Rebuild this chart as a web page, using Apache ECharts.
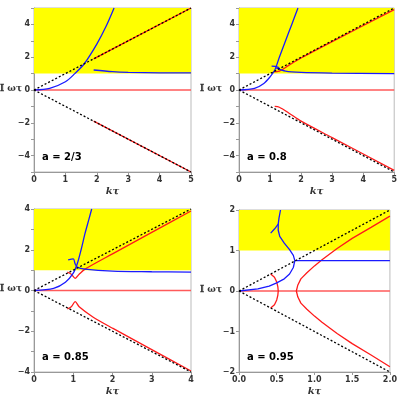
<!DOCTYPE html>
<html><head><meta charset="utf-8">
<script src="https://cdn.jsdelivr.net/npm/echarts@6/dist/echarts.min.js"></script>
<style>html,body{margin:0;padding:0;background:#fff}#c{width:400px;height:400px}</style>
</head><body><div id="c"></div>
<script>
// panel meta
const labels = ["a = 2/3", "a = 0.8", "a = 0.85", "a = 0.95"];
const xMax = [5, 5, 4, 2];
const yMax = [5, 5, 4, 2];
// panel 1 (a = 2/3)
const p1Blue = [[[0,0],[0.5,0.1],[1,0.5],[1.3,1.0],[1.6,1.6],[2,2.8],[2.3,3.9],[2.55,5]],
  [[1.9,1.22],[2.5,1.12],[3,1.08],[4,1.05],[5,1.04]]];
const p1Red = [[[0,0],[5,0]],[[1.9,1.9],[5,5]],[[1.9,-1.9],[5,-5]]];
// panel 2 (a = 0.8)
const p2Blue = [[[0,0],[0.5,0.1],[0.8,0.4],[1.0,0.8],[1.15,1.2],[1.3,2],[1.5,3],[1.7,4],[1.9,5]],
  [[1.05,1.45],[1.25,1.4],[1.3,1.3]],
  [[1.2,1.35],[1.5,1.15],[2,1.07],[3,1.03],[5,1.0]]];
const p2Red = [[[0,0],[5,0]],[[1.1,1.1],[1.3,1.15],[1.6,1.5],[2,1.95],[3,2.95],[5,4.9]],
  [[1.15,-1.0],[1.3,-1.05],[1.6,-1.4],[2,-1.9],[3,-2.9],[5,-4.9]]];
// panel 3 (a = 0.85)
const p3Blue = [[[0,0],[0.5,0.1],[0.8,0.4],[1.0,0.85],[1.1,1.3],[1.2,2],[1.3,2.8],[1.4,3.5],[1.47,4]],
  [[0.87,1.5],[1.0,1.55],[1.05,1.3],[1.1,1.15],[1.3,1.05],[2,0.95],[3,0.92],[4,0.9]]];
const p3Red = [[[0,0],[4,0]],[[0.85,0.9],[0.95,0.8],[1.05,0.6],[1.15,0.8],[1.3,1.05],[2,1.8],[3,2.85],[4,3.9]],
  [[0.85,-0.9],[0.95,-0.8],[1.05,-0.55],[1.15,-0.8],[1.5,-1.3],[2,-1.85],[3,-2.9],[4,-3.95]]];
// panel 4 (a = 0.95)
const p4Blue = [[[0,0],[0.25,0.05],[0.4,0.12],[0.5,0.2],[0.6,0.3],[0.67,0.42],[0.72,0.58],[0.74,0.75],[0.72,0.88],[0.67,1.02],[0.6,1.18],[0.54,1.35],[0.52,1.5],[0.52,1.65],[0.53,1.8],[0.55,2]],
  [[0.42,1.43],[0.47,1.53],[0.52,1.65]],[[0.74,0.75],[2,0.75]]];
const p4Red = [[[0,0],[2,0]],[[0.42,0.42],[0.47,0.34],[0.5,0.22],[0.515,0.1],[0.52,0],[0.515,-0.1],[0.5,-0.22],[0.47,-0.34],[0.42,-0.42]],
  [[2,-1.87],[1.75,-1.58],[1.5,-1.3],[1.3,-1.05],[1.1,-0.77],[1.0,-0.62],[0.9,-0.45],[0.82,-0.3],[0.78,-0.15],[0.76,0],[0.78,0.15],[0.82,0.3],[0.9,0.45],[1.0,0.62],[1.1,0.77],[1.3,1.05],[1.5,1.3],[1.75,1.57],[2,1.85]]];

const blues = [p1Blue,p2Blue,p3Blue,p4Blue];
const reds = [p1Red,p2Red,p3Red,p4Red];
const grids = [
  {left:34,top:8,width:157,height:164},
  {left:239,top:8,width:157,height:164},
  {left:34,top:209,width:157,height:163},
  {left:239,top:210,width:158,height:162}
];
const opt = {animation:false, grid:[], xAxis:[], yAxis:[], series:[], graphic:[]};
const lab = {fontSize:8, color:'#333', fontWeight:'bold', fontFamily:'DejaVu Sans'};
for (let i=0;i<4;i++){
  const g = grids[i];
  const sm = i===3 ? false : 0.3;
  opt.grid.push(Object.assign({show:true,borderColor:'#bbb',borderWidth:1},g));
  const xi = i===3?0.5:1;
  opt.xAxis.push({type:'value',gridIndex:i,min:0,max:xMax[i],interval:xi,
    axisLine:{onZero:false,lineStyle:{color:'#999'}},axisTick:{inside:false,length:3,lineStyle:{color:'#999'}},
    splitLine:{show:false},axisLabel:Object.assign({margin:4,formatter:v=>i===3?v.toFixed(1):String(v)},lab),
    name:'kτ',nameLocation:'middle',nameGap:14,nameTextStyle:{fontSize:10,fontWeight:'bold',fontStyle:'italic',color:'#333',fontFamily:'DejaVu Serif'}});
  opt.yAxis.push({type:'value',gridIndex:i,min:-yMax[i],max:yMax[i],interval:1,
    axisLine:{onZero:false,lineStyle:{color:'#999'}},axisTick:{length:3,lineStyle:{color:'#999'}},splitLine:{show:false},
    axisLabel:Object.assign({margin:4,formatter:v=>(i===3||v%2===0)?String(v).replace('-','−'):''},lab)});
  opt.series.push({type:'line',xAxisIndex:i,yAxisIndex:i,data:[],silent:true,
    markArea:{silent:true,itemStyle:{color:'#ffff00',opacity:1},data:[[{coord:[0,1]},{coord:[xMax[i],yMax[i]]}]]}});
  reds[i].forEach((d,j)=>opt.series.push({type:'line',xAxisIndex:i,yAxisIndex:i,data:d,showSymbol:false,smooth:sm,
    lineStyle:{color:j===0?'#ff5a5a':'#ff1a1a',width:j===0?1.6:1.3},z:3}));
  blues[i].forEach(d=>opt.series.push({type:'line',xAxisIndex:i,yAxisIndex:i,data:d,showSymbol:false,smooth:sm,
    lineStyle:{color:'#1a1aff',width:1.3},z:4}));
  [[[0,0],[xMax[i],xMax[i]]],[[0,0],[xMax[i],-xMax[i]]]].forEach(d=>opt.series.push({type:'line',xAxisIndex:i,yAxisIndex:i,data:d,showSymbol:false,
    lineStyle:{color:'#000',width:1.3,type:[2,2]},z:5}));
  opt.graphic.push({type:'text',left:g.left+8,top:g.top+g.height-20,style:{text:labels[i],fontSize:10,fontWeight:'bold',fill:'#000',fontFamily:'DejaVu Sans'}});
  opt.graphic.push({type:'text',left:(i%2)?200:0,top:g.top+g.height/2-6,style:{text:'𝕀 ωτ',fontSize:9,fontWeight:'bold',fill:'#333',fontFamily:'DejaVu Serif'}});
}
echarts.init(document.getElementById('c')).setOption(opt);
</script></body></html>
